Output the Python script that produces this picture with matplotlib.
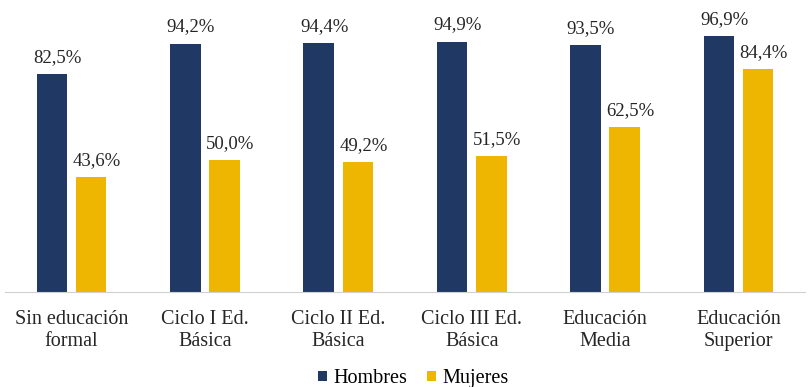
import numpy as np
import matplotlib
matplotlib.use("Agg")
import matplotlib.pyplot as plt

plt.rcParams["font.family"] = ["Liberation Serif", "DejaVu Serif"]

categorias = ["Sin educación\nformal", "Ciclo I Ed.\nBásica", "Ciclo II Ed.\nBásica",
              "Ciclo III Ed.\nBásica", "Educación\nMedia", "Educación\nSuperior"]
hombres = [82.5, 94.2, 94.4, 94.9, 93.5, 96.9]
mujeres = [43.6, 50.0, 49.2, 51.5, 62.5, 84.4]

navy, gold = "#203864", "#EEB600"

fig = plt.figure(figsize=(8.1, 3.87), dpi=100)
ax = fig.add_axes([0.006, 0.245, 0.988, 0.682])
x = np.arange(len(categorias))
w = 0.23
off = 0.147
b1 = ax.bar(x - off, hombres, w, color=navy, label="Hombres")
b2 = ax.bar(x + off, mujeres, w, color=gold, label="Mujeres")

for bars, vals in ((b1, hombres), (b2, mujeres)):
    for r, v in zip(bars, vals):
        ax.annotate(f"{v:.1f}%".replace(".", ","), (r.get_x() + r.get_width() / 2, v),
                    xytext=(4, 6), textcoords="offset points", ha="center", va="bottom",
                    fontsize=13.5, color="#262626")

ax.set_xlim(-0.5, len(categorias) - 0.5)
ax.set_ylim(0, 100)
ax.set_yticks([])
ax.set_xticks(x)
ax.set_xticklabels(categorias, fontsize=14.5, color="#262626", linespacing=1.2)
ax.tick_params(axis="x", length=0, pad=13)
for s in ("top", "left", "right"):
    ax.spines[s].set_visible(False)
ax.spines["bottom"].set_color("#d0d0d0")
ax.spines["bottom"].set_linewidth(0.8)

fig.legend(loc="lower center", bbox_to_anchor=(0.51, -0.05), ncol=2, frameon=False,
           fontsize=14.5, handlelength=0.45, handleheight=0.45, handletextpad=0.3,
           columnspacing=1.0)
fig.savefig("out.png", dpi=100)
